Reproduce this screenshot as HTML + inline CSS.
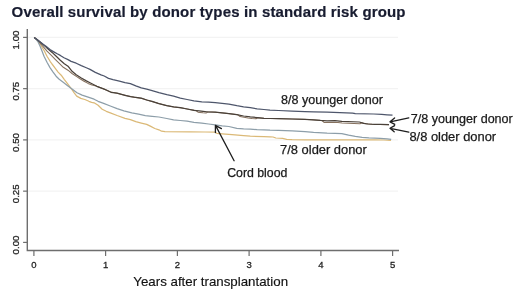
<!DOCTYPE html>
<html><head><meta charset="utf-8"><style>
html,body{margin:0;padding:0;background:#fff;width:520px;height:295px;overflow:hidden}
svg{display:block;will-change:transform;font-family:"Liberation Sans",sans-serif}
</style></head><body>
<svg width="520" height="295" viewBox="0 0 520 295">
<line x1="27.3" y1="37.4" x2="398" y2="37.4" stroke="#f3f3f3" stroke-width="1.2"/>
<line x1="27.3" y1="88.65" x2="398" y2="88.65" stroke="#f3f3f3" stroke-width="1.2"/>
<line x1="27.3" y1="139.9" x2="398" y2="139.9" stroke="#f3f3f3" stroke-width="1.2"/>
<line x1="27.3" y1="191.15" x2="398" y2="191.15" stroke="#f3f3f3" stroke-width="1.2"/>
<path d="M27.3 29 V250.5 H399" fill="none" stroke="#6e6e6e" stroke-width="1.4"/>
<line x1="23.1" y1="37.4" x2="27.3" y2="37.4" stroke="#6e6e6e" stroke-width="1.2"/>
<line x1="23.1" y1="88.65" x2="27.3" y2="88.65" stroke="#6e6e6e" stroke-width="1.2"/>
<line x1="23.1" y1="139.9" x2="27.3" y2="139.9" stroke="#6e6e6e" stroke-width="1.2"/>
<line x1="23.1" y1="191.15" x2="27.3" y2="191.15" stroke="#6e6e6e" stroke-width="1.2"/>
<line x1="23.1" y1="242.4" x2="27.3" y2="242.4" stroke="#6e6e6e" stroke-width="1.2"/>
<line x1="33.9" y1="250.5" x2="33.9" y2="256" stroke="#6e6e6e" stroke-width="1.2"/>
<line x1="105.6" y1="250.5" x2="105.6" y2="256" stroke="#6e6e6e" stroke-width="1.2"/>
<line x1="177.4" y1="250.5" x2="177.4" y2="256" stroke="#6e6e6e" stroke-width="1.2"/>
<line x1="249.1" y1="250.5" x2="249.1" y2="256" stroke="#6e6e6e" stroke-width="1.2"/>
<line x1="320.9" y1="250.5" x2="320.9" y2="256" stroke="#6e6e6e" stroke-width="1.2"/>
<line x1="392.6" y1="250.5" x2="392.6" y2="256" stroke="#6e6e6e" stroke-width="1.2"/>
<text x="33.9" y="267.9" font-size="9.5" text-anchor="middle" fill="#222" stroke="#222" stroke-width="0.28">0</text>
<text x="105.6" y="267.9" font-size="9.5" text-anchor="middle" fill="#222" stroke="#222" stroke-width="0.28">1</text>
<text x="177.4" y="267.9" font-size="9.5" text-anchor="middle" fill="#222" stroke="#222" stroke-width="0.28">2</text>
<text x="249.1" y="267.9" font-size="9.5" text-anchor="middle" fill="#222" stroke="#222" stroke-width="0.28">3</text>
<text x="320.9" y="267.9" font-size="9.5" text-anchor="middle" fill="#222" stroke="#222" stroke-width="0.28">4</text>
<text x="392.6" y="267.9" font-size="9.5" text-anchor="middle" fill="#222" stroke="#222" stroke-width="0.28">5</text>
<text transform="translate(18.9 40.0) rotate(-90)" font-size="9.7" text-anchor="middle" fill="#222" stroke="#222" stroke-width="0.28">1.00</text>
<text transform="translate(18.9 91.2) rotate(-90)" font-size="9.7" text-anchor="middle" fill="#222" stroke="#222" stroke-width="0.28">0.75</text>
<text transform="translate(18.9 142.5) rotate(-90)" font-size="9.7" text-anchor="middle" fill="#222" stroke="#222" stroke-width="0.28">0.50</text>
<text transform="translate(18.9 193.8) rotate(-90)" font-size="9.7" text-anchor="middle" fill="#222" stroke="#222" stroke-width="0.28">0.25</text>
<text transform="translate(18.9 245.0) rotate(-90)" font-size="9.7" text-anchor="middle" fill="#222" stroke="#222" stroke-width="0.28">0.00</text>
<polyline points="34.2,37.4 36.5,39.3 39.1,42.3 41.0,45.5 44.5,51.3 47.0,56.2 50.1,61.3 52.0,64.0 55.1,68.1 58.1,72.1 61.2,75.2 64.2,79.3 67.3,83.3 70.3,87.4 72.2,90.0 74.0,92.6 76.7,96.1 80.8,98.4 84.8,99.5 88.9,101.3 91.6,102.3 94.1,102.8 98.1,105.3 102.2,109.2 106.3,111.3 110.3,112.8 117.1,115.5 125.0,118.3 130.4,119.7 135.8,121.7 141.3,123.1 146.7,124.4 150.8,126.4 154.8,128.5 158.9,129.8 161.6,131.2 165.0,131.6 190.0,131.8 205.0,132.0 215.5,132.2 216.8,133.4 222.1,133.8 228.9,134.3 235.0,134.9 243.6,135.6 250.3,136.2 263.9,136.6 270.0,136.8 273.1,137.0 275.8,138.0 282.6,138.3 286.7,139.3 292.1,139.6 305.0,139.8 320.0,139.9 340.0,139.9 360.0,139.8 375.0,139.9 384.0,140.0 391.0,140.4" fill="none" stroke="#dbb977" stroke-width="1.25" stroke-linejoin="round"/>
<polyline points="34.2,37.4 36.0,39.2 38.0,41.8 40.2,46.5 42.2,51.5 44.0,56.3 47.0,62.3 50.0,67.6 53.1,72.1 56.1,76.2 59.2,79.3 63.2,82.3 67.3,85.4 71.4,88.4 74.0,90.4 77.0,92.7 82.1,95.1 88.9,97.4 94.1,99.2 98.1,101.3 103.6,103.3 110.3,106.0 117.1,108.7 123.9,110.8 131.8,112.9 138.6,114.2 145.3,115.6 152.1,116.3 158.9,117.0 166.8,118.5 173.6,119.8 180.3,120.5 187.1,121.2 193.9,122.4 201.8,123.1 208.6,124.0 215.3,124.8 222.1,125.8 228.9,126.5 236.8,128.3 243.6,128.9 250.3,129.2 257.1,129.6 263.9,129.8 270.0,130.1 278.6,130.3 292.1,130.9 305.0,131.7 313.6,132.4 327.1,133.1 335.0,133.3 341.8,133.6 348.6,135.1 355.3,136.3 362.1,137.3 368.9,137.9 380.3,138.3 387.1,138.8 391.2,139.4" fill="none" stroke="#8d9ea9" stroke-width="1.25" stroke-linejoin="round"/>
<polyline points="34.2,37.4 38.0,40.6 42.1,45.3 47.0,51.1 51.1,55.2 55.2,59.3 59.3,63.3 63.3,67.3 68.0,70.2 72.0,73.5 76.7,76.6 80.0,78.8 84.0,81.2 88.0,83.4 92.0,85.1 96.0,85.9 100.0,87.5 105.0,89.5 110.0,91.8 118.0,93.4 126.0,95.6 134.0,97.2 142.0,98.4 150.0,100.9 158.0,103.3 166.0,105.4 174.0,107.0 182.0,108.0 190.0,109.5 196.0,110.5 198.0,112.2 200.0,112.4 203.0,112.8 206.0,113.1 208.0,111.9 212.0,112.1 218.0,112.5 226.0,113.3 234.0,114.2 238.0,114.8 240.0,116.6 244.0,117.3 248.0,117.9 252.0,118.4 256.0,118.8 258.0,117.7 264.0,118.3 272.0,118.5 282.0,118.7 292.0,119.0 302.0,119.2 312.0,119.7 318.0,120.2 322.0,120.5 324.0,122.4 328.0,122.6 332.0,122.5 335.0,122.4 338.0,122.5 342.0,122.9 348.0,123.2 354.0,123.4 360.0,123.8 362.0,122.8 366.0,123.7 372.0,124.2 380.0,124.4 389.0,124.7" fill="none" stroke="#86715e" stroke-width="1.05" stroke-linejoin="round"/>
<polyline points="34.2,37.4 38.0,40.3 42.0,43.6 45.2,46.4 48.1,49.1 52.1,52.4 56.2,56.2 60.3,60.3 64.3,63.7 68.0,66.2 72.1,71.3 76.2,74.7 81.3,78.0 86.3,80.9 90.0,82.8 96.8,86.3 103.6,88.9 106.8,90.3 111.0,92.3 117.1,93.2 125.0,95.3 130.4,96.7 135.8,97.4 141.3,98.2 146.7,100.0 152.1,101.4 158.9,103.6 166.8,105.6 173.6,106.9 180.3,107.7 187.1,109.0 193.9,110.3 199.1,110.9 203.1,111.4 208.6,112.0 215.3,112.2 222.1,112.9 228.9,113.6 236.8,114.6 243.6,116.0 250.3,116.9 257.1,117.6 263.9,118.3 270.0,118.5 278.6,118.6 292.1,119.0 305.0,119.3 313.6,119.8 320.3,120.4 327.1,120.8 335.0,120.6 341.8,121.3 359.4,122.0 363.5,123.3 368.1,124.0 375.0,124.3 380.3,124.4 389.0,124.7" fill="none" stroke="#4a4139" stroke-width="1.25" stroke-linejoin="round"/>
<polyline points="34.2,37.4 37.0,39.6 41.1,42.8 46.0,46.2 50.0,49.6 54.2,52.1 57.2,53.8 60.3,55.4 64.0,57.8 68.0,59.6 71.1,61.4 76.2,63.2 81.3,65.6 86.3,67.8 90.0,69.4 95.3,72.4 101.0,74.8 104.2,76.0 108.5,78.4 113.0,79.6 119.4,81.1 125.0,82.7 130.4,83.6 135.8,85.8 141.3,87.9 146.7,89.2 152.1,90.6 158.9,92.6 166.8,94.7 173.6,96.1 180.3,98.1 187.1,99.5 193.9,100.8 201.8,101.8 208.6,102.1 215.3,102.7 222.1,103.4 228.9,104.1 236.8,105.7 243.6,106.8 250.3,107.7 257.1,108.8 263.9,109.5 270.0,110.1 278.6,110.5 292.1,111.1 305.0,111.6 313.6,111.8 327.1,112.1 340.0,112.6 352.6,113.1 355.3,113.7 373.6,114.0 381.7,114.3 387.1,114.8 392.5,115.2" fill="none" stroke="#4e566b" stroke-width="1.25" stroke-linejoin="round"/>
<g stroke="#1e1e1e" stroke-width="1.3" fill="none" stroke-linecap="round" stroke-linejoin="round">
<path d="M408.8 117.8 L390.2 121.8 M394.6 117.9 L390 121.8 L394.8 124.3"/>
<path d="M408.8 132.2 L390.2 128.3 M394.6 125.6 L390 128.3 L394.2 131.8"/>
<path d="M234.1 160.7 L215.5 125.4 M215.4 132.6 L215.4 125.4 L221.4 128.6"/>
</g>
<text x="281" y="104.2" font-size="12.57" fill="#1a1a1a" stroke="#1a1a1a" stroke-width="0.25">8/8 younger donor</text>
<text x="410.8" y="122.5" font-size="12.57" fill="#1a1a1a" stroke="#1a1a1a" stroke-width="0.25">7/8 younger donor</text>
<text x="409.4" y="141.3" font-size="12.9" fill="#1a1a1a" stroke="#1a1a1a" stroke-width="0.25">8/8 older donor</text>
<text x="280.1" y="153.5" font-size="12.9" fill="#1a1a1a" stroke="#1a1a1a" stroke-width="0.25">7/8 older donor</text>
<text x="227.2" y="176.7" font-size="12.3" fill="#1a1a1a" stroke="#1a1a1a" stroke-width="0.25">Cord blood</text>
<text x="133.3" y="285.9" font-size="13.3" fill="#111" stroke="#111" stroke-width="0.15">Years after transplantation</text>
<text x="11.6" y="16.6" font-size="15" font-weight="bold" letter-spacing="0.15" fill="#181c30" stroke="#181c30" stroke-width="0.2">Overall survival by donor types in standard risk group</text>
</svg>
</body></html>
